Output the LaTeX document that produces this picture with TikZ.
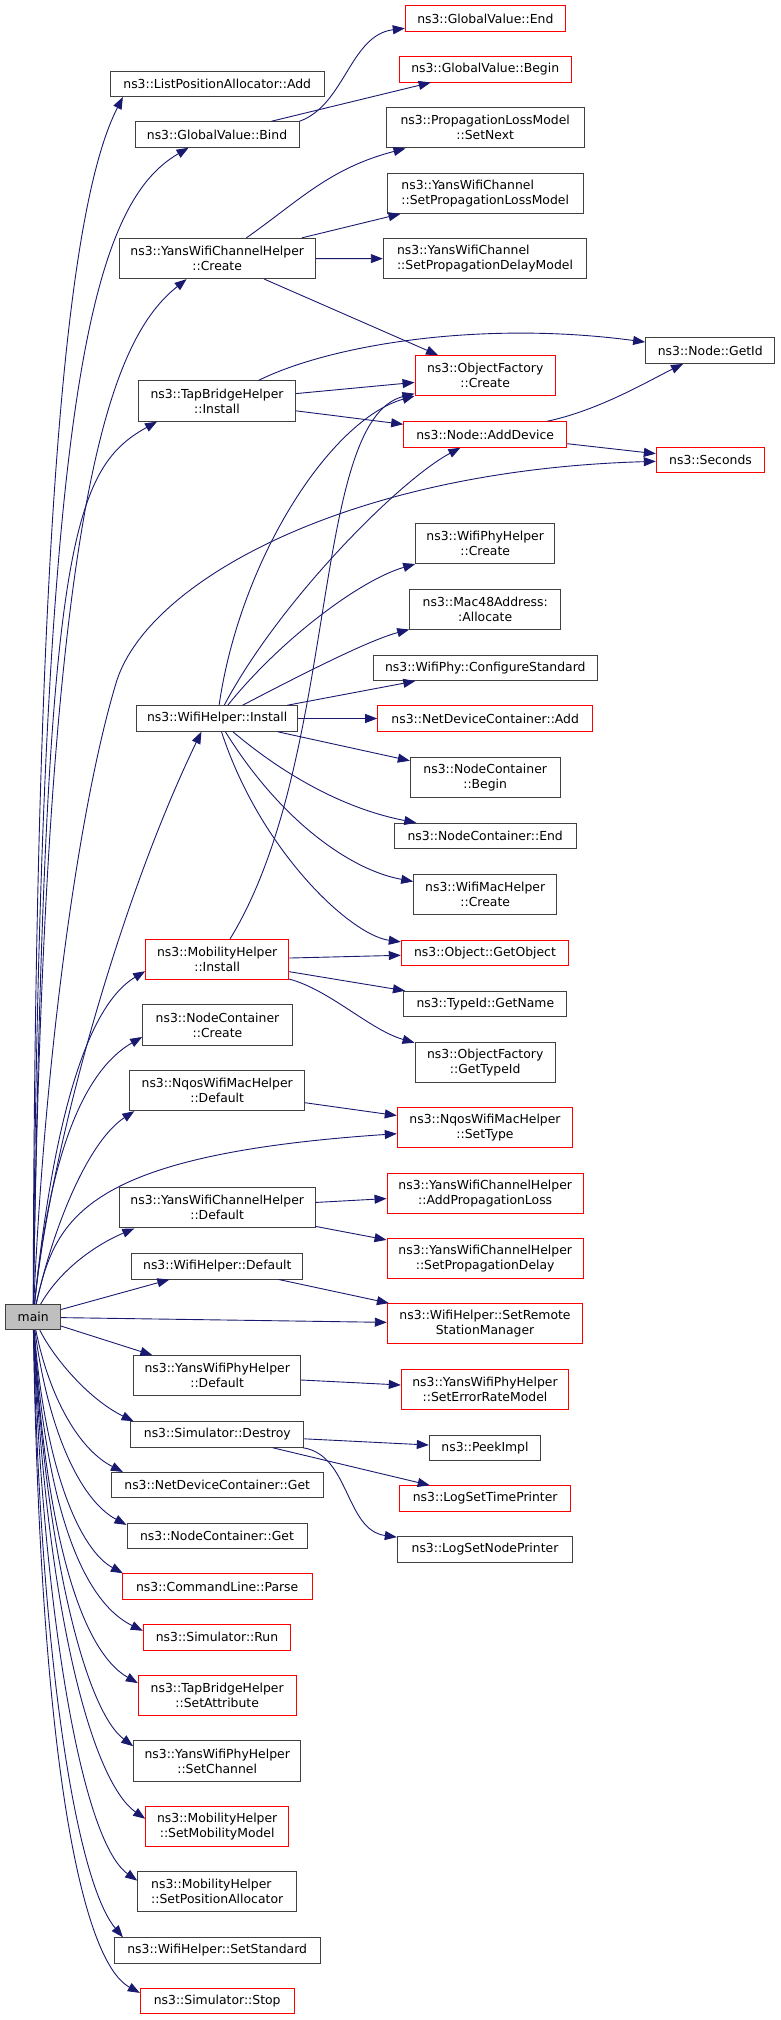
\documentclass[tikz,border=0pt]{standalone}
\usepackage{fontspec}
\setmainfont{DejaVu Sans}
\usetikzlibrary{arrows.meta}
\definecolor{edgeblue}{RGB}{25,25,112}
\definecolor{boxgrey}{RGB}{64,64,64}
\definecolor{boxred}{RGB}{255,0,0}
\definecolor{mainfill}{RGB}{191,191,191}
\tikzset{>={Triangle[length=12pt,width=9pt]}}
\tikzset{fn/.style={draw=boxgrey, line width=1pt, inner sep=0pt, minimum height=25.5pt, align=center, font=\fontsize{12.4}{15}\selectfont},
  fnred/.style={fn, draw=boxred},
  tall/.style={minimum height=40.3pt},
  call/.style={->, draw=edgeblue, line width=0.9pt}}

\begin{document}
\begin{tikzpicture}[x=1pt, y=-1pt]
\useasboundingbox (0,0) rectangle (781,2020);
\node[fn, fill=mainfill, minimum width=55pt, minimum height=25pt] (main) at (33.2,1317.2) {main};
\node[fn, minimum width=214.3pt] (lpaAdd) at (217.2,83.8) {ns3::ListPositionAllocator::Add};
\node[fn, minimum width=164pt] (gvBind) at (217,134.5) {ns3::GlobalValue::Bind};
\node[fn, tall, minimum width=195.7pt] (ywchCreate) at (217.2,258.5) {ns3::YansWifiChannelHelper\\::Create};
\node[fnred, minimum width=160pt] (gvEnd) at (485.3,18.5) {ns3::GlobalValue::End};
\node[fnred, minimum width=172.3pt] (gvBegin) at (485.2,69.3) {ns3::GlobalValue::Begin};
\node[fn, tall, minimum width=197.7pt] (plmSetNext) at (485.2,127.8) {ns3::PropagationLossModel\\::SetNext};
\node[fn, tall, align=left, minimum width=196.3pt] (ywcSetLoss) at (485.2,193.2) {ns3::YansWifiChannel\\::SetPropagationLossModel};
\node[fn, tall, align=left, minimum width=203.4pt] (ywcSetDelay) at (485,258.7) {ns3::YansWifiChannel\\::SetPropagationDelayModel};
\node[fn, tall, minimum width=157.4pt] (tbhInstall) at (217,401) {ns3::TapBridgeHelper\\::Install};
\node[fnred, tall, minimum width=140.3pt] (ofCreate) at (485.2,375.8) {ns3::ObjectFactory\\::Create};
\node[fnred, minimum width=163pt] (nodeAddDev) at (485.2,434.5) {ns3::Node::AddDevice};
\node[fn, minimum width=129.3pt] (nodeGetId) at (710.3,350.7) {ns3::Node::GetId};
\node[fnred, minimum width=108.4pt] (seconds) at (710.5,459.8) {ns3::Seconds};
\node[fn, tall, minimum width=139pt] (wpCreate) at (485.2,543.8) {ns3::WifiPhyHelper\\::Create};
\node[fn, tall, minimum width=151pt] (macAlloc) at (485.2,609.2) {ns3::Mac48Address:\\:Allocate};
\node[fn, minimum width=224pt] (wpConfStd) at (485.3,667.8) {ns3::WifiPhy::ConfigureStandard};
\node[fn, minimum width=161pt] (whInstall) at (217.2,718.5) {ns3::WifiHelper::Install};
\node[fnred, minimum width=215pt] (ndcAdd) at (485.2,718.5) {ns3::NetDeviceContainer::Add};
\node[fn, tall, minimum width=149.7pt] (ncBegin) at (485.2,777.2) {ns3::NodeContainer\\::Begin};
\node[fn, minimum width=181.7pt] (ncEnd) at (485.2,836) {ns3::NodeContainer::End};
\node[fn, tall, minimum width=143pt] (wmCreate) at (485.2,894.5) {ns3::WifiMacHelper\\::Create};
\node[fnred, minimum width=167.4pt] (objGet) at (485,953.2) {ns3::Object::GetObject};
\node[fn, minimum width=163.3pt] (tidName) at (485.3,1004) {ns3::TypeId::GetName};
\node[fnred, tall, minimum width=143pt] (mhInstall) at (217.2,959.8) {ns3::MobilityHelper\\::Install};
\node[fn, tall, minimum width=149.6pt] (ncCreate) at (217.5,1025) {ns3::NodeContainer\\::Create};
\node[fn, tall, minimum width=140.3pt] (ofTypeId) at (485.2,1062.7) {ns3::ObjectFactory\\::GetTypeId};
\node[fn, tall, minimum width=175pt] (nqDefault) at (217.2,1090.5) {ns3::NqosWifiMacHelper\\::Default};
\node[fnred, tall, minimum width=175.4pt] (nqSetType) at (485,1127.8) {ns3::NqosWifiMacHelper\\::SetType};
\node[fn, tall, minimum width=195.7pt] (ywchDefault) at (217.2,1207.8) {ns3::YansWifiChannelHelper\\::Default};
\node[fnred, tall, minimum width=196.3pt] (ywchAddLoss) at (485.2,1193.2) {ns3::YansWifiChannelHelper\\::AddPropagationLoss};
\node[fnred, tall, minimum width=196.3pt] (ywchSetDelay) at (485.2,1258.5) {ns3::YansWifiChannelHelper\\::SetPropagationDelay};
\node[fn, minimum width=170.7pt] (whDefault) at (217.3,1266.3) {ns3::WifiHelper::Default};
\node[fnred, tall, minimum width=195.4pt] (whSetRsm) at (485,1323.8) {ns3::WifiHelper::SetRemote\\StationManager};
\node[fn, tall, minimum width=167pt] (ywphDefault) at (217.2,1375.8) {ns3::YansWifiPhyHelper\\::Default};
\node[fnred, tall, minimum width=167.4pt] (ywphSetErr) at (485,1389.2) {ns3::YansWifiPhyHelper\\::SetErrorRateModel};
\node[fn, minimum width=173.3pt] (simDestroy) at (217.3,1434.5) {ns3::Simulator::Destroy};
\node[fn, minimum width=111.4pt] (peekImpl) at (485,1447.8) {ns3::PeekImpl};
\node[fnred, minimum width=171pt] (logTime) at (485.2,1498.5) {ns3::LogSetTimePrinter};
\node[fn, minimum width=175.4pt] (logNode) at (485,1549.3) {ns3::LogSetNodePrinter};
\node[fn, minimum width=212.3pt] (ndcGet) at (217.2,1485.2) {ns3::NetDeviceContainer::Get};
\node[fn, minimum width=180pt] (ncGet) at (217,1536) {ns3::NodeContainer::Get};
\node[fnred, minimum width=189.7pt] (clParse) at (217.2,1586.5) {ns3::CommandLine::Parse};
\node[fnred, minimum width=147.4pt] (simRun) at (217,1637.3) {ns3::Simulator::Run};
\node[fnred, tall, minimum width=157.7pt] (tbhSetAttr) at (217.2,1695.7) {ns3::TapBridgeHelper\\::SetAttribute};
\node[fn, tall, minimum width=167pt] (ywphSetChan) at (217.2,1761) {ns3::YansWifiPhyHelper\\::SetChannel};
\node[fnred, tall, minimum width=143pt] (mhSetMob) at (217.2,1826.3) {ns3::MobilityHelper\\::SetMobilityModel};
\node[fn, tall, align=left, minimum width=159pt] (mhSetPos) at (217.2,1891.8) {ns3::MobilityHelper\\::SetPositionAllocator};
\node[fn, minimum width=205.7pt] (whSetStd) at (217.2,1950.5) {ns3::WifiHelper::SetStandard};
\node[fnred, minimum width=153.7pt] (simStop) at (217.2,2001) {ns3::Simulator::Stop};

\draw[call] (main) .. controls (35,500) and (70,200) .. (lpaAdd.188);
\draw[call] (main) .. controls (40,400) and (90,205) .. (gvBind.205);
\draw[call] (main) .. controls (45,500) and (110,340) .. (ywchCreate.214);
\draw[call] (main) .. controls (45,550) and (70,470) .. (tbhInstall.199);
\draw[call] (main) .. controls (45,1050) and (80,800) .. (117,680) .. controls (150,580) and (350,470) .. (seconds);
\draw[call] (main) .. controls (50,1150) and (120,900) .. (whInstall.220);
\draw[call] (main) .. controls (50,1150) and (80,1010) .. (mhInstall.189);
\draw[call] (main) .. controls (50,1150) and (85,1070) .. (ncCreate.189);
\draw[call] (main) .. controls (55,1220) and (90,1140) .. (nqDefault.194);
\draw[call] (main) .. controls (55,1220) and (80,1155) .. (nqSetType);
\draw[call] (main) .. controls (60,1270) and (95,1245) .. (ywchDefault.194);
\draw[call] (main) -- (whDefault);
\draw[call] (main) -- (whSetRsm);
\draw[call] (main) -- (ywphDefault);
\draw[call] (main) .. controls (55,1360) and (90,1400) .. (simDestroy.171);
\draw[call] (main) .. controls (50,1400) and (80,1450) .. (ndcGet.172);
\draw[call] (main) .. controls (48,1430) and (80,1500) .. (ncGet.173);
\draw[call] (main) .. controls (45,1470) and (80,1550) .. (clParse.172);
\draw[call] (main) .. controls (45,1500) and (80,1600) .. (simRun.175);
\draw[call] (main) .. controls (45,1530) and (80,1650) .. (tbhSetAttr.171);
\draw[call] (main) .. controls (45,1550) and (85,1710) .. (ywphSetChan.170);
\draw[call] (main) .. controls (45,1600) and (90,1780) .. (mhSetMob.174);
\draw[call] (main) .. controls (42,1600) and (80,1840) .. (mhSetPos.172);
\draw[call] (main) .. controls (40,1650) and (75,1880) .. (whSetStd.172);
\draw[call] (main) .. controls (40,1750) and (80,1960) .. (simStop.174);

\draw[call] (gvBind.north east) .. controls (345,105) and (350,35) .. (gvEnd);
\draw[call] (gvBind) -- (gvBegin);
\draw[call] (ywchCreate) .. controls (300,200) and (330,168) .. (plmSetNext);
\draw[call] (ywchCreate) -- (ywcSetLoss);
\draw[call] (ywchCreate) -- (ywcSetDelay);
\draw[call] (ywchCreate) -- (ofCreate);
\draw[call] (tbhInstall) .. controls (330,345) and (480,320) .. (nodeGetId);
\draw[call] (tbhInstall) -- (ofCreate);
\draw[call] (tbhInstall) -- (nodeAddDev);
\draw[call] (nodeAddDev) .. controls (600,410) and (650,380) .. (nodeGetId);
\draw[call] (nodeAddDev) -- (seconds);
\draw[call] (whInstall) .. controls (240,560) and (330,420) .. (ofCreate);
\draw[call] (mhInstall) .. controls (340,760) and (310,420) .. (ofCreate);
\draw[call] (whInstall) .. controls (280,600) and (400,480) .. (nodeAddDev);
\draw[call] (whInstall) .. controls (280,640) and (360,580) .. (wpCreate);
\draw[call] (whInstall) .. controls (310,670) and (370,640) .. (macAlloc);
\draw[call] (whInstall) -- (wpConfStd);
\draw[call] (whInstall) -- (ndcAdd);
\draw[call] (whInstall) -- (ncBegin);
\draw[call] (whInstall) .. controls (290,780) and (350,810) .. (ncEnd);
\draw[call] (whInstall) .. controls (280,820) and (350,870) .. (wmCreate);
\draw[call] (whInstall) .. controls (260,850) and (350,935) .. (objGet);
\draw[call] (mhInstall) -- (objGet);
\draw[call] (mhInstall) -- (tidName);
\draw[call] (mhInstall) .. controls (330,990) and (370,1030) .. (ofTypeId);
\draw[call] (nqDefault) -- (nqSetType);
\draw[call] (ywchDefault) -- (ywchAddLoss);
\draw[call] (ywchDefault) -- (ywchSetDelay);
\draw[call] (whDefault) -- (whSetRsm);
\draw[call] (ywphDefault) -- (ywphSetErr);
\draw[call] (simDestroy) -- (peekImpl);
\draw[call] (simDestroy) -- (logTime);
\draw[call] (simDestroy) .. controls (350,1455) and (345,1530) .. (logNode);
\end{tikzpicture}
\end{document}
